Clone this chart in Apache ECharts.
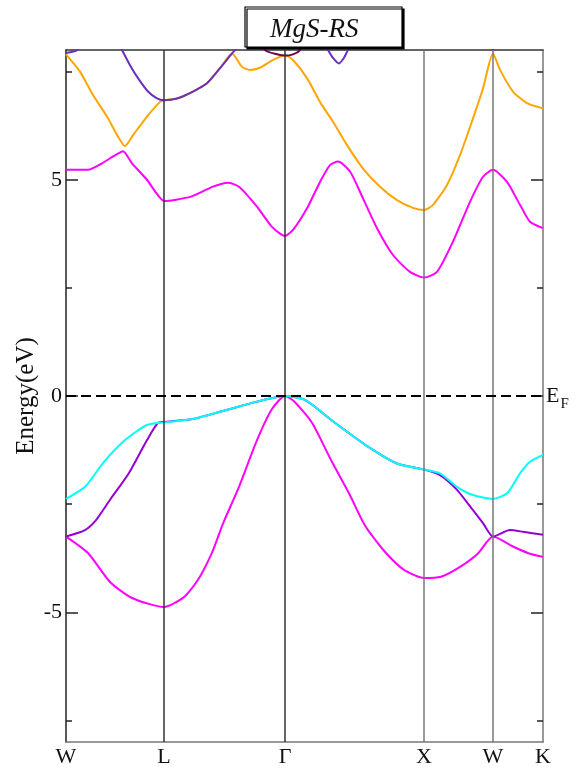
<!DOCTYPE html>
<html>
<head>
<meta charset="utf-8">
<script src="https://cdn.jsdelivr.net/npm/echarts@6/dist/echarts.min.js"></script>
<style>
html,body{margin:0;padding:0;background:#fff;}
#chart{width:576px;height:771px;}
</style>
</head>
<body>
<div id="chart"></div>
<script>
// k-path: high-symmetry points (path distance, in plot units)
var kLabels = ['W', 'L', 'Γ', 'X', 'W', 'K'];
var kPositions = [0, 98, 219, 358, 427, 477];
var yMajorTicks = [-5, 0, 5];
var yMinorTicks = [-7.5, -2.5, 2.5, 7.5];
var titleText = 'MgS-RS';
var yName = 'Energy(eV)';

// valence bands [k, E(eV)]
var bandV1 = [[0,-3.25],[22,-3.63],[44,-4.30],[66,-4.67],[98,-4.88],[118,-4.65],[132,-4.25],[146,-3.62],[157,-2.95],[173,-2.10],[191,-1.02],[206,-0.30],[219,0],[228,-0.12],[246,-0.62],[265,-1.48],[283,-2.25],[296,-2.87],[302,-3.10],[320,-3.63],[338,-4.02],[358,-4.21],[375,-4.18],[394,-3.95],[412,-3.64],[427,-3.25],[447,-3.48],[463,-3.64],[477,-3.72]];
var bandV2 = [[0,-3.25],[19,-3.10],[30,-2.87],[44,-2.40],[63,-1.78],[81,-1.02],[92,-0.62],[98,-0.60],[125,-0.54],[155,-0.36],[191,-0.13],[219,0],[239,-0.09],[265,-0.55],[302,-1.17],[331,-1.56],[358,-1.70],[374,-1.83],[391,-2.17],[407,-2.64],[417,-2.94],[427,-3.25],[444,-3.10],[457,-3.14],[477,-3.21]];
var bandV3 = [[0,-2.38],[19,-2.10],[37,-1.55],[59,-1.02],[81,-0.67],[98,-0.61],[125,-0.54],[155,-0.36],[191,-0.13],[219,0],[239,-0.09],[265,-0.55],[302,-1.17],[331,-1.56],[358,-1.70],[374,-1.79],[391,-2.10],[407,-2.29],[427,-2.38],[441,-2.25],[454,-1.79],[464,-1.52],[477,-1.36]];
// conduction bands
var bandC1 = [[0,5.23],[22,5.23],[36,5.38],[48,5.55],[57,5.66],[66,5.38],[81,5.0],[90,4.70],[98,4.51],[125,4.61],[147,4.84],[162,4.93],[173,4.84],[191,4.38],[206,3.91],[219,3.70],[227,3.84],[241,4.34],[254,4.95],[264,5.34],[272,5.42],[284,5.19],[297,4.57],[311,3.88],[327,3.26],[344,2.87],[358,2.74],[371,2.87],[387,3.57],[404,4.49],[417,5.07],[427,5.23],[441,4.95],[454,4.42],[464,4.03],[477,3.88]];
var bandC2 = [[0,7.90],[14,7.50],[27,6.96],[41,6.46],[52,6.0],[59,5.78],[67,6.03],[81,6.46],[94,6.80],[98,6.84],[111,6.88],[127,7.04],[141,7.23],[154,7.58],[166,7.92],[176,7.61],[184,7.54],[194,7.59],[207,7.77],[219,7.88],[227,7.77],[241,7.35],[254,6.80],[267,6.34],[281,5.80],[297,5.26],[314,4.84],[331,4.53],[347,4.35],[358,4.30],[367,4.42],[381,4.88],[394,5.57],[407,6.42],[417,7.11],[427,7.92],[434,7.54],[447,7.04],[461,6.77],[477,6.65]];
var bandC3 = [[0,7.93],[11,8.0],[25,8.5],[45,8.5],[56,8.0],[64,7.65],[72,7.35],[82,7.04],[91,6.88],[98,6.84],[111,6.88],[127,7.04],[141,7.23],[154,7.58],[166,7.92],[169,8.0],[185,8.5],[250,8.5],[262,8.0],[267,7.82],[273,7.69],[278,7.82],[282,8.0],[300,8.6],[420,8.6],[427,7.98],[434,8.6],[477,8.8]];
var bandC4 = [[190,8.6],[199,8.0],[211,7.90],[219,7.87],[227,7.90],[234,8.0],[245,8.6]];

var serif = '"Liberation Serif","DejaVu Serif",serif';
var chart = echarts.init(document.getElementById('chart'), null, {renderer: 'canvas'});

function band(data, color, z) {
  return {
    type: 'line', data: data, xAxisIndex: 0, yAxisIndex: 0,
    showSymbol: false, symbol: 'none', smooth: 0.22, clip: true, z: z,
    lineStyle: {color: color, width: 2}, silent: true, animation: false
  };
}

var vLineColors = ['#222', '#333', '#333', '#777', '#777', '#777'];
var vLines = [];
for (var i = 1; i < kPositions.length - 1; i++) {
  vLines.push({xAxis: kPositions[i], lineStyle: {color: vLineColors[i], width: 1.5, type: 'solid'}});
}

function yAx(pos, major, showLine, lineColor, label) {
  return {
    type: 'value', position: pos, min: -8, max: 8,
    axisLine: {show: showLine, onZero: false, lineStyle: {color: lineColor, width: 1.5}},
    axisTick: {show: true, inside: true, length: major ? 12 : 6, customValues: major ? yMajorTicks : yMinorTicks,
               lineStyle: {color: '#222', width: 1.5}},
    axisLabel: label || {show: false},
    splitLine: {show: false}
  };
}

var option = {
  animation: false,
  backgroundColor: '#fff',
  title: {
    text: titleText, left: 265, top: 11, z: 10,
    textStyle: {fontFamily: serif, fontStyle: 'italic', fontWeight: 'normal', fontSize: 27, color: '#111'}
  },
  graphic: [{
    type: 'rect', z: 5, shape: {x: 245, y: 7, width: 157, height: 40},
    style: {fill: '#fff', stroke: '#000', lineWidth: 1.2, shadowColor: '#000', shadowOffsetX: 2, shadowOffsetY: 2, shadowBlur: 0}
  }],
  grid: {left: 66, right: 33, top: 50, bottom: 29, containLabel: false},
  xAxis: [{
    type: 'value', position: 'bottom', min: 0, max: 477,
    axisLine: {show: true, onZero: false, lineStyle: {color: '#777', width: 1.5}},
    axisTick: {show: false},
    axisLabel: {
      show: true, customValues: kPositions, margin: 4,
      fontFamily: serif, fontSize: 22, color: '#111',
      formatter: function (v) { var idx = kPositions.indexOf(v); return idx >= 0 ? kLabels[idx] : ''; }
    },
    splitLine: {show: false}
  }, {
    type: 'value', position: 'top', min: 0, max: 477,
    axisLine: {show: true, onZero: false, lineStyle: {color: '#333', width: 1.5}},
    axisTick: {show: false}, axisLabel: {show: false}, splitLine: {show: false}
  }],
  yAxis: [
    (function () {
      var a = yAx('left', true, true, '#222', {
        show: true, customValues: yMajorTicks, margin: 4,
        fontFamily: serif, fontSize: 22, color: '#111'
      });
      a.name = yName; a.nameLocation = 'middle'; a.nameRotate = 90; a.nameGap = 27;
      a.nameMoveOverlap = false;
      a.nameTextStyle = {fontFamily: serif, fontSize: 25, color: '#111'};
      return a;
    })(),
    yAx('left', false, false, '#222'),
    yAx('right', true, true, '#777', {
      show: true, customValues: [0], margin: 3, color: '#111',
      formatter: function () { return '{e|E}{f|F}'; },
      rich: {
        e: {fontFamily: serif, fontSize: 22, color: '#111'},
        f: {fontFamily: serif, fontSize: 15, color: '#111', padding: [16, 0, 0, 1]}
      }
    }),
    yAx('right', false, false, '#777')
  ],
  series: [
    {type: 'line', data: [], xAxisIndex: 0, yAxisIndex: 0, z: 1, silent: true,
     markLine: {silent: true, symbol: ['none', 'none'], label: {show: false}, animation: false, data: vLines}},
    band(bandC2, '#ffa500', 2),
    band(bandC3, '#6a2fc0', 3),
    band(bandC4, '#6e0352', 3),
    band(bandC1, '#ff00ff', 3),
    band(bandV1, '#ff00ff', 3),
    band(bandV2, '#9400d3', 3),
    band(bandV3, '#00ffff', 4),
    {type: 'line', data: [], xAxisIndex: 0, yAxisIndex: 0, z: 5, silent: true,
     markLine: {silent: true, symbol: ['none', 'none'], label: {show: false}, animation: false,
       data: [{yAxis: 0, lineStyle: {color: '#000', width: 2, type: [10, 5]}}]}}
  ]
};
chart.setOption(option);
</script>
</body>
</html>
